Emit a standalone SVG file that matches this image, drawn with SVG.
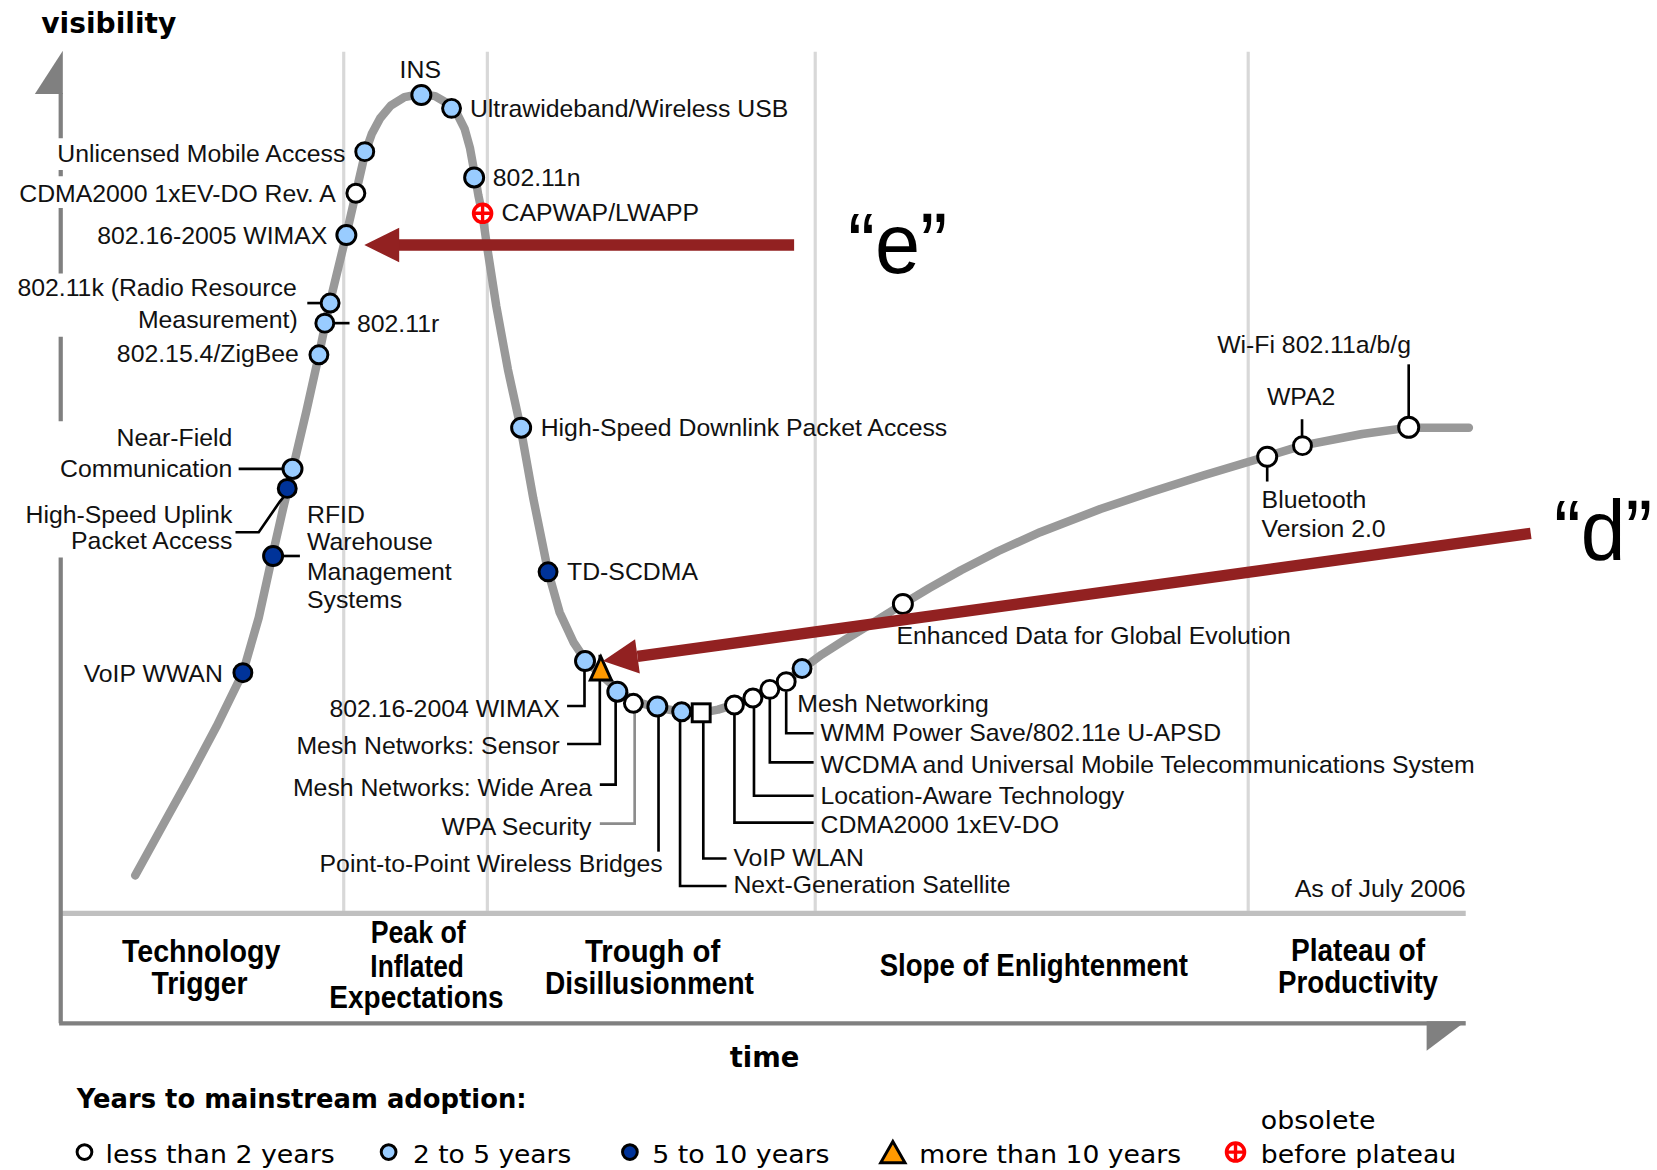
<svg xmlns="http://www.w3.org/2000/svg" width="1657" height="1170" viewBox="0 0 1657 1170">
<defs>
<style>
.grid{stroke:#d8d8d8;stroke-width:3;fill:none}
.axis{stroke:#808080;stroke-width:4;fill:none}
.sep{stroke:#c0c0c0;stroke-width:5;fill:none}
.curve{fill:none;stroke:#999999;stroke-width:8;stroke-linejoin:round;stroke-linecap:round}
.lead{fill:none;stroke:#000;stroke-width:2.5}
.leadg{fill:none;stroke:#8c8c8c;stroke-width:2.5}
.mk{stroke:#000;stroke-width:2.8}
.w{fill:#ffffff}
.lb{fill:#99ccff}
.db{fill:#003399}
.lbl{font-family:"Liberation Sans",Arial,sans-serif;font-size:23.5px;fill:#111}
.end{text-anchor:end}
.mid{text-anchor:middle}
.phase{font-family:"Liberation Sans",Arial,sans-serif;font-weight:bold;font-size:29px;fill:#000;text-anchor:middle}
.head{font-family:"DejaVu Sans",Verdana,sans-serif;font-weight:bold;fill:#000}
.leg{font-family:"DejaVu Sans",Verdana,sans-serif;font-size:23.5px;fill:#000}
.red{stroke:#922121;stroke-width:10.8;fill:none}
.redf{fill:#922121}
.big{font-family:"Liberation Sans",Arial,sans-serif;font-size:80px;fill:#000}
</style>
<g id="obs">
<circle r="8.5" fill="#fff" stroke="#ff0000" stroke-width="3.4"/>
<path d="M-9 0H9M0-9V9" stroke="#ff0000" stroke-width="3.2"/>
</g>
</defs>
<rect width="1657" height="1170" fill="#fff"/>
<g id="chart" transform="scale(1.056)">
<g id="frame">
<path class="grid" d="M325.5 49V863M461.5 49V863M772 49V863M1182 49V863"/>
<path class="sep" d="M57 865H1388"/>
<path class="axis" d="M57.5 88V131M57.5 161V167M57.5 197V259M57.5 319V399M57.5 528V969M56 969H1388"/>
<polygon fill="#808080" points="59.5,48 33,89 59.5,89"/>
<polygon fill="#808080" points="1351,967 1388,967 1351,995"/>
<text class="head" x="39" y="31.5" font-size="27" textLength="128" lengthAdjust="spacingAndGlyphs">visibility</text>
<text class="head" x="691" y="1010" font-size="27" textLength="66" lengthAdjust="spacingAndGlyphs">time</text>
<text class="lbl" x="1388" y="849" text-anchor="end" textLength="162" lengthAdjust="spacingAndGlyphs">As of July 2006</text>
</g>
<path id="curve" class="curve" d="M128,829 L155,780 L180,735 L205,688 L230,637 L245,585 L258,526 L268,482 L277,445 L290,390 L302,336 L312,288 L320,255 L328,222 L337,183 L346,144 L352,127 L360,112 L370,100 L383,92 L398,89 L412,91 L424,98 L433,108 L440,122 L445,140 L449,162 L453,185 L457,204 L461,232 L470,290 L481,350 L493,405 L505,472 L519,541 L530,580 L543,608 L555,626 L568,638 L585,653 L600,664 L622,670 L645,674 L664,675 L680,672 L696,667 L713,660 L729,652 L744,645 L759,634 L778,620 L800,606 L828,589 L855,572 L880,557 L910,540 L945,522 L985,504 L1042,482 L1090,466 L1140,450 L1200,432 L1233,422 L1290,411 L1334,405 L1391,405"/>
<g id="connectors">
<path class="lead" d="M291,287H304"/>
<path class="lead" d="M317,306H331"/>
<path class="lead" d="M226,444H268"/>
<path class="lead" d="M223,504H245L265,475L270,469"/>
<path class="lead" d="M268,526.5H284"/>
<path class="lead" d="M553.5,635V668.6H537"/>
<path class="lead" d="M568,620V704.5H537"/>
<path class="lead" d="M583,664V743H568"/>
<path class="leadg" d="M601,675V780H568"/>
<path class="lead" d="M623.6,678V806.5"/>
<path class="lead" d="M644,683V839H688"/>
<path class="lead" d="M666,684V813H688"/>
<path class="lead" d="M695.5,677V779H770.5"/>
<path class="lead" d="M714,670V753.5H770.5"/>
<path class="lead" d="M729,662V722H770.5"/>
<path class="lead" d="M744.5,655V694.4H770.5"/>
<path class="lead" d="M1200,442V456"/>
<path class="lead" d="M1233,397V413"/>
<path class="lead" d="M1334,345V395"/>
</g>
<g id="nodes">
<g id="n-ins"><circle class="mk lb" cx="399" cy="90" r="9"/><text class="lbl mid" x="398" y="74">INS</text></g>
<g id="n-uwb"><circle class="mk lb" cx="427.6" cy="102.6" r="8.5"/><text class="lbl" x="445" y="111">Ultrawideband/Wireless USB</text></g>
<g id="n-uma"><circle class="mk lb" cx="345.4" cy="143.6" r="8.5"/><text class="lbl end" x="327" y="153">Unlicensed Mobile Access</text></g>
<g id="n-cdma-reva"><circle class="mk w" cx="337" cy="183" r="8.5"/><text class="lbl end" x="318" y="191">CDMA2000 1xEV-DO Rev. A</text></g>
<g id="n-wimax2005"><circle class="mk lb" cx="328" cy="222.6" r="9"/><text class="lbl end" x="310" y="231">802.16-2005 WIMAX</text></g>
<g id="n-80211k"><circle class="mk lb" cx="312.6" cy="287" r="8.5"/><text class="lbl end" x="281" y="280">802.11k (Radio Resource</text><text class="lbl end" x="282" y="311">Measurement)</text></g>
<g id="n-80211r"><circle class="mk lb" cx="307.6" cy="306" r="8.5"/><text class="lbl" x="338" y="314">802.11r</text></g>
<g id="n-zigbee"><circle class="mk lb" cx="302" cy="336" r="8.5"/><text class="lbl end" x="283" y="343">802.15.4/ZigBee</text></g>
<g id="n-nfc"><circle class="mk lb" cx="277" cy="444" r="9"/><text class="lbl end" x="220" y="422">Near-Field</text><text class="lbl end" x="220" y="452">Communication</text></g>
<g id="n-hsupa"><circle class="mk db" cx="272" cy="462.5" r="8.5"/><text class="lbl end" x="220" y="495">High-Speed Uplink</text><text class="lbl end" x="220" y="520">Packet Access</text></g>
<g id="n-rfid"><circle class="mk db" cx="258.6" cy="526.5" r="9"/><text class="lbl" x="290.7" y="495">RFID</text><text class="lbl" x="290.7" y="521">Warehouse</text><text class="lbl" x="290.7" y="549">Management</text><text class="lbl" x="290.7" y="576">Systems</text></g>
<g id="n-voipwwan"><circle class="mk db" cx="230" cy="637" r="8.5"/><text class="lbl end" x="211" y="645.5">VoIP WWAN</text></g>
<g id="n-80211n"><circle class="mk lb" cx="449" cy="168" r="9"/><text class="lbl" x="466.7" y="176">802.11n</text></g>
<g id="n-capwap"><use href="#obs" x="457" y="202"/><text class="lbl" x="475" y="209">CAPWAP/LWAPP</text></g>
<g id="n-hsdpa"><circle class="mk lb" cx="493.5" cy="405" r="9"/><text class="lbl" x="512" y="413">High-Speed Downlink Packet Access</text></g>
<g id="n-tdscdma"><circle class="mk db" cx="519" cy="541.5" r="8.5"/><text class="lbl" x="537" y="549">TD-SCDMA</text></g>
<g id="n-wimax2004"><circle class="mk lb" cx="554" cy="626" r="9"/><text class="lbl end" x="530" y="678.7">802.16-2004 WIMAX</text></g>
<g id="n-meshsensor"><polygon class="mk" fill="#ff9900" points="569,622 559,644 579,644"/><text class="lbl end" x="530" y="714">Mesh Networks: Sensor</text></g>
<g id="n-meshwide"><circle class="mk lb" cx="584.6" cy="655" r="9"/><text class="lbl end" x="560.6" y="753.8">Mesh Networks: Wide Area</text></g>
<g id="n-wpa"><circle class="mk w" cx="599.8" cy="666" r="8.5"/><text class="lbl end" x="560" y="790.7">WPA Security</text></g>
<g id="n-p2p"><circle class="mk lb" cx="622.5" cy="669" r="9"/><text class="lbl end" x="627.6" y="825.5">Point-to-Point Wireless Bridges</text></g>
<g id="n-nextgen"><circle class="mk lb" cx="645.5" cy="674" r="8.5"/><text class="lbl" x="694.5" y="846">Next-Generation Satellite</text></g>
<g id="n-voipwlan"><rect class="mk w" x="655.5" y="666.5" width="17" height="17"/><text class="lbl" x="694.5" y="820">VoIP WLAN</text></g>
<g id="n-cdma"><circle class="mk w" cx="695.5" cy="667.6" r="8.5"/><text class="lbl" x="777" y="789">CDMA2000 1xEV-DO</text></g>
<g id="n-location"><circle class="mk w" cx="713" cy="661" r="8.5"/><text class="lbl" x="777" y="761.4">Location-Aware Technology</text></g>
<g id="n-wcdma"><circle class="mk w" cx="729" cy="652.8" r="8.5"/><text class="lbl" x="777" y="731.7">WCDMA and Universal Mobile Telecommunications System</text></g>
<g id="n-wmm"><circle class="mk w" cx="744.5" cy="645.5" r="8.5"/><text class="lbl" x="777" y="701.4">WMM Power Save/802.11e U-APSD</text></g>
<g id="n-meshnet"><circle class="mk lb" cx="759.5" cy="633" r="8.5"/><text class="lbl" x="755" y="674">Mesh Networking</text></g>
<g id="n-edge"><circle class="mk w" cx="855" cy="572" r="9"/><text class="lbl" x="849" y="610">Enhanced Data for Global Evolution</text></g>
<g id="n-bluetooth"><circle class="mk w" cx="1200" cy="432.5" r="9"/><text class="lbl" x="1194.7" y="481.4">Bluetooth</text><text class="lbl" x="1194.7" y="508.2">Version 2.0</text></g>
<g id="n-wpa2"><circle class="mk w" cx="1233.4" cy="422" r="8.5"/><text class="lbl" x="1199.7" y="383.5">WPA2</text></g>
<g id="n-wifi"><circle class="mk w" cx="1334" cy="404.6" r="9.5"/><text class="lbl" x="1152.6" y="334">Wi-Fi 802.11a/b/g</text></g>
</g>
<g id="phases">
<text class="phase" x="190.5" y="910.7" textLength="150" lengthAdjust="spacingAndGlyphs">Technology</text>
<text class="phase" x="189" y="941.3" textLength="91" lengthAdjust="spacingAndGlyphs">Trigger</text>
<text class="phase" x="396" y="893.3" textLength="90" lengthAdjust="spacingAndGlyphs">Peak of</text>
<text class="phase" x="395" y="924.9" textLength="88.6" lengthAdjust="spacingAndGlyphs">Inflated</text>
<text class="phase" x="394.4" y="954.8" textLength="165" lengthAdjust="spacingAndGlyphs">Expectations</text>
<text class="phase" x="618" y="910.7" textLength="128" lengthAdjust="spacingAndGlyphs">Trough of</text>
<text class="phase" x="615" y="941.3" textLength="198" lengthAdjust="spacingAndGlyphs">Disillusionment</text>
<text class="phase" x="979" y="924" textLength="292" lengthAdjust="spacingAndGlyphs">Slope of Enlightenment</text>
<text class="phase" x="1286" y="909.7" textLength="127" lengthAdjust="spacingAndGlyphs">Plateau of</text>
<text class="phase" x="1286" y="940.6" textLength="151.5" lengthAdjust="spacingAndGlyphs">Productivity</text>
</g>
<g id="legend">
<text class="head" x="72.7" y="1049.5" font-size="24.3" textLength="426" lengthAdjust="spacingAndGlyphs">Years to mainstream adoption:</text>
<circle class="mk w" cx="80" cy="1091" r="7"/>
<text class="leg" x="100" y="1101.6" textLength="217" lengthAdjust="spacingAndGlyphs">less than 2 years</text>
<circle class="mk lb" cx="368" cy="1091" r="7"/>
<text class="leg" x="391" y="1101.6" textLength="150" lengthAdjust="spacingAndGlyphs">2 to 5 years</text>
<circle class="mk db" cx="596.5" cy="1091" r="7"/>
<text class="leg" x="617.6" y="1101.6" textLength="168" lengthAdjust="spacingAndGlyphs">5 to 10 years</text>
<polygon class="mk" fill="#ff9900" points="845.5,1081 834,1101 857,1101"/>
<text class="leg" x="870.4" y="1101.6" textLength="248" lengthAdjust="spacingAndGlyphs">more than 10 years</text>
<use href="#obs" x="1170" y="1091"/>
<text class="leg" x="1194" y="1069" textLength="108.6" lengthAdjust="spacingAndGlyphs">obsolete</text>
<text class="leg" x="1194" y="1101.6" textLength="185" lengthAdjust="spacingAndGlyphs">before plateau</text>
</g>
<g id="annotations">
<path class="red" d="M752,232H376"/>
<polygon class="redf" points="345,232 378,215.6 378,248.4"/>
<text class="big" x="803" y="258.6" textLength="94" lengthAdjust="spacingAndGlyphs">“e”</text>
<path class="red" d="M1449.6,505L603.7,621.5"/>
<polygon class="redf" points="571,626 601.4,605.3 605.9,637.7"/>
<text class="big" x="1471.6" y="530" textLength="93" lengthAdjust="spacingAndGlyphs">“d”</text>
</g>
</g>
</svg>
